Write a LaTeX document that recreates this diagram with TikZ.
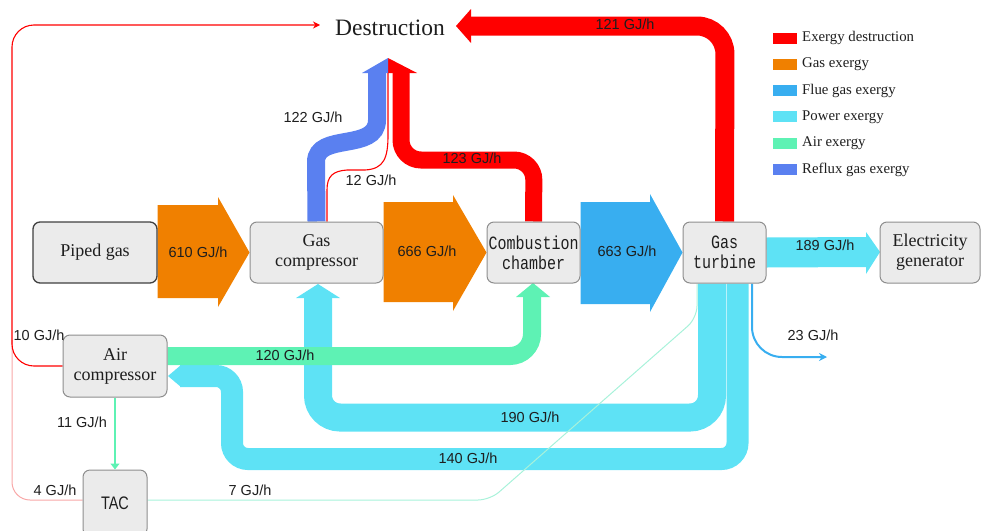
\documentclass[tikz,border=0pt]{standalone}
\usepackage{fontspec}
\usepackage{graphicx}
\setmainfont{Liberation Serif}
\newfontfamily\labelfont{Liberation Sans}
\newfontfamily\monofont{Liberation Mono}
\usetikzlibrary{arrows.meta,calc}
\definecolor{exred}{HTML}{FF0000}
\definecolor{gasorange}{HTML}{F08000}
\definecolor{flueblue}{HTML}{38AEF0}
\definecolor{powercyan}{HTML}{5EE2F5}
\definecolor{airgreen}{HTML}{5EF2B4}
\definecolor{refluxblue}{HTML}{5A80F0}
\definecolor{boxfill}{HTML}{EBEBEB}
\definecolor{boxborder}{HTML}{8E8E8E}
\definecolor{lightred}{HTML}{F8A8A8}
\definecolor{lightgreen}{HTML}{A8F2DA}
\definecolor{txt}{HTML}{1E1E1E}
\newcommand\tallline[1]{\scalebox{1}[1.25]{#1}}
\pgfdeclarelayer{bg}
\pgfsetlayers{bg,main}
\begin{document}
\begin{tikzpicture}[x=1pt,y=-1pt,
  box/.style={draw=boxborder, fill=boxfill, rounded corners=7pt, line width=1pt,
    minimum height=61pt, inner sep=0pt, align=center,
    font=\fontsize{18}{20}\selectfont, text=txt},
  monobox/.style={box, font=\monofont\fontsize{15}{20}\selectfont},
  flowlabel/.style={font=\labelfont\fontsize{14.5}{17}\selectfont, text=txt, inner sep=0pt},
  legtext/.style={anchor=west, inner sep=0pt, font=\fontsize{14.8}{17}\selectfont, text=txt},
  thinred/.style={exred, line width=1.1pt}
]
\useasboundingbox (0,0) rectangle (981,530);

% ---------- nodes ----------
\node[box, draw=black!75, line width=1.3pt, minimum width=124pt] (piped) at (95,252.5) {Piped gas};
\node[box, minimum width=133pt] (gcomp) at (316.5,252.5) {Gas\\compressor};
\node[monobox, minimum width=93pt] (comb) at (533.5,252.5) {\tallline{Combustion}\\\tallline{chamber}};
\node[monobox, minimum width=83pt] (gturb) at (724.5,252.5) {\tallline{Gas}\\\tallline{turbine}};
\node[box, minimum width=100pt] (elec) at (930,252.5) {Electricity\\generator};
\node[box, minimum width=104pt, minimum height=62pt] (aircomp) at (115,366) {Air\\compressor};
\node[box, minimum width=64pt, minimum height=66pt, font=\labelfont\fontsize{14.5}{17}\selectfont] (tac) at (115,503) {\tallline{TAC}};
\node[font=\fontsize{23.5}{26}\selectfont, text=txt, inner sep=0pt] (dest) at (390,28) {Destruction};
\coordinate (destTip) at (388,58);
\coordinate (destIn) at (320,25);

\begin{pgfonlayer}{bg}
% power exergy bands
\draw[powercyan, line width=22pt, rounded corners=16pt]
  ($(gturb.south)+(13,0)$) -- (737.5,459) -- (232,459) -- (232,376) -- (180,376);
\fill[powercyan] (168,376) -- (181,365) -- (181,387) -- cycle;
\draw[powercyan, line width=28pt, rounded corners=22pt]
  ($(gturb.south)+(-12.5,0)$) -- (712,417.5) -- (318,417.5) -- (318,297.5);
\fill[powercyan] (296,298) -- (318,284) -- (340,298) -- cycle;
\draw[powercyan, line width=30pt] (gturb.east) -- (867,252);
\fill[powercyan] (866,232) -- (880,252) -- (866,274) -- cycle;

% big block arrows
\fill[gasorange] (piped.east |- 0,205) -- (218,205) -- (218,197) -- (gcomp.west) -- (218,307) -- (218,298) -- (piped.east |- 0,298) -- cycle;
\fill[gasorange] (gcomp.east |- 0,202) -- (453,202) -- (453,195) -- (comb.west) -- (453,311) -- (453,302) -- (gcomp.east |- 0,302) -- cycle;
\fill[flueblue] (comb.east |- 0,202) -- (650,202) -- (650,194) -- (gturb.west) -- (650,312) -- (650,304) -- (comb.east |- 0,304) -- cycle;

% exergy destruction bands
\draw[exred, line width=19pt, rounded corners=28pt]
  (gturb.north) -- (725,26) -- (469,26);
\fill[exred] (471,9) -- (456,26) -- (471,43) -- cycle;
\draw[exred, line width=17pt, rounded corners=20pt]
  (comb.north) -- (534,160) -- (401,160) -- (401,72.5);
\fill[exred] (destTip) -- (417,73) -- (388,73) -- cycle;

% reflux gas band
\draw[refluxblue, line width=18pt]
  (gcomp.north) -- (316,162) .. controls (316,132) and (377,152) .. (377,120) -- (377,72.5);
\fill[refluxblue] (362,73) -- (destTip) -- (388,73) -- cycle;

% thin red 12
\draw[thinred] ($(gcomp.north)+(10.5,0)$) -- (327,190)
  .. controls (327,176) and (333,171) .. (347,170)
  -- (365,170) .. controls (384,169) and (388,158) .. (388,135) -- (388,73);

% thin red 10 and pink 4
\draw[lightred, line width=1pt, rounded corners=18pt]
  ($(tac.west)+(0,-3)$) -- (12,500) -- (12,340);
\draw[thinred, rounded corners=22pt, -{Stealth[length=7pt,width=7pt]}]
  (aircomp.west) -- (12,366) -- (12,25) -- (destIn);

% air exergy band
\draw[airgreen, line width=18pt, rounded corners=22pt]
  ($(aircomp.east)+(0,-10)$) -- (532,356) -- (532,296.5);
\fill[airgreen] (516,297) -- (533,283) -- (550,297) -- cycle;

% thin lines
\draw[airgreen, line width=1.2pt, -{Triangle[length=6pt,width=9pt]}] (aircomp.south) -- (tac.north);
\draw[lightgreen, line width=1pt, rounded corners=12pt]
  ($(tac.east)+(0,-3)$) -- (490,500) -- (697,318) -- ($(gturb.south)+(-27.5,0)$);
\draw[flueblue, line width=2pt, rounded corners=30pt, -{Stealth[length=8pt,width=8pt]}]
  ($(gturb.south)+(27.5,0)$) -- (752,357) -- (827,357);
\end{pgfonlayer}

% ---------- flow labels ----------
\node[flowlabel] (l610) at (198,252) {610 GJ/h};
\node[flowlabel] (l666) at (427,251) {666 GJ/h};
\node[flowlabel] (l663) at (627,251) {663 GJ/h};
\node[flowlabel] (l189) at (825,245) {189 GJ/h};
\node[flowlabel] (l121) at (625,24) {121 GJ/h};
\node[flowlabel] (l123) at (472,158) {123 GJ/h};
\node[flowlabel] (l122) at (313,117) {122 GJ/h};
\node[flowlabel] (l12) at (371,180) {12 GJ/h};
\node[flowlabel] (l10) at (39,335) {10 GJ/h};
\node[flowlabel] (l120) at (285,355) {120 GJ/h};
\node[flowlabel] (l11) at (82,422) {11 GJ/h};
\node[flowlabel] (l4) at (55,490) {4 GJ/h};
\node[flowlabel] (l7) at (250,490) {7 GJ/h};
\node[flowlabel] (l190) at (530,417) {190 GJ/h};
\node[flowlabel] (l140) at (468,458) {140 GJ/h};
\node[flowlabel] (l23) at (813,335) {23 GJ/h};

% ---------- legend ----------
\foreach \c/\t [count=\i from 0] in {exred/Exergy destruction, gasorange/Gas exergy,
  flueblue/Flue gas exergy, powercyan/Power exergy, airgreen/Air exergy, refluxblue/Reflux gas exergy}{
  \fill[\c] (773,{32.5+26.3*\i}) rectangle (797,{43.5+26.3*\i});
  \node[legtext] (leg\i) at (802,{38+26.3*\i}) {\t};
}
\end{tikzpicture}
\end{document}
